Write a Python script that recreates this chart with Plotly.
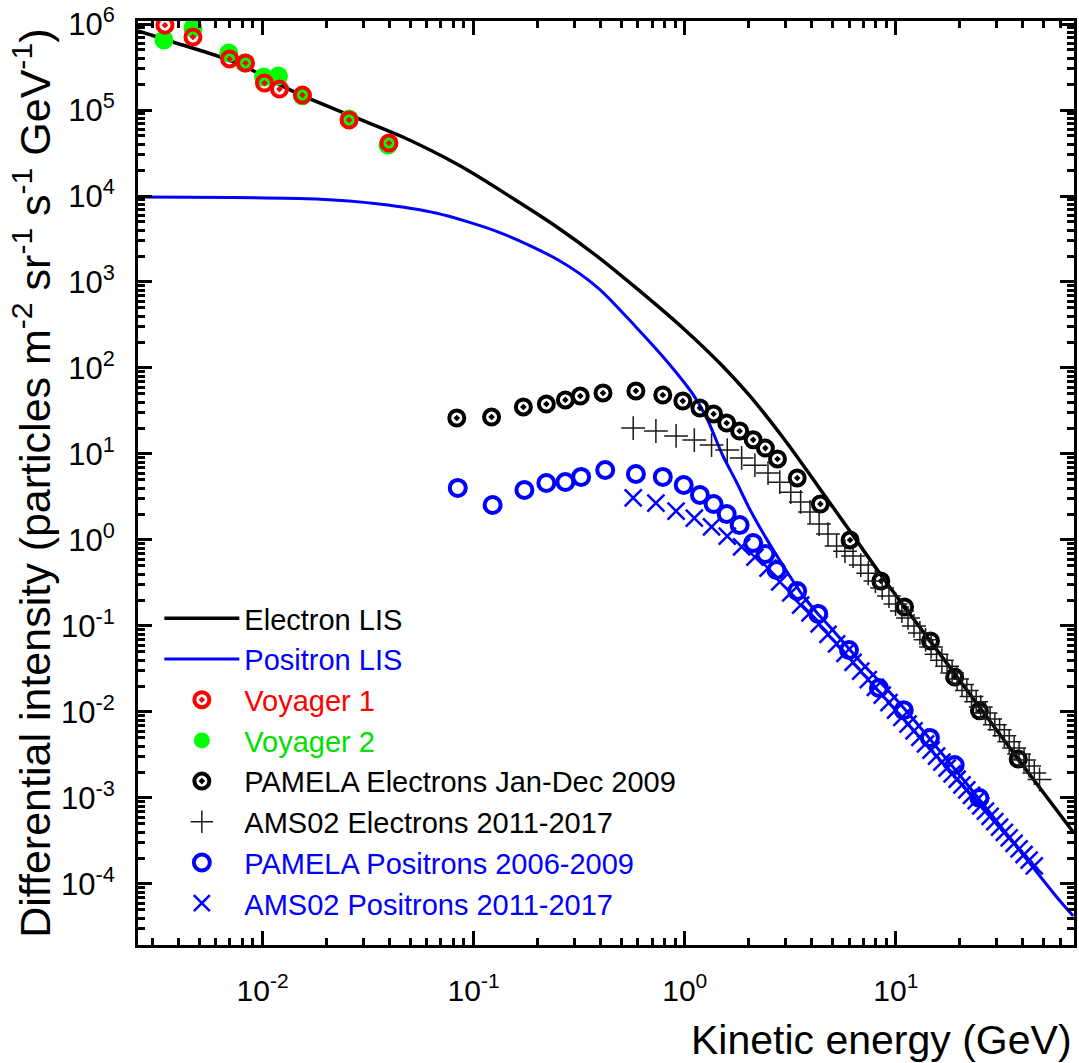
import plotly.graph_objects as go

# ---------------- data ----------------
# Electron LIS (GeV, intensity)
e_lis_E = [0.00257, 0.00376, 0.00754, 0.01446, 0.0257, 0.0462, 0.0849, 0.1578, 0.2518, 0.389, 0.600, 0.979, 1.51, 2.03, 2.93, 4.24, 6.14, 8.77, 11.27, 17.4, 24.9, 46.2, 69.2]
e_lis_J = [8.30e5, 6.18e5, 3.52e5, 1.58e5, 8.75e4, 4.85e4, 2.29e4, 8.98e3, 4.25e3, 1.95e3, 820, 292, 105.5, 47.6, 15.35, 4.36, 1.21, 0.352, 0.1535, 0.0372, 0.01143, 1.49e-3, 4.02e-4]

# Positron LIS
p_lis_E = [0.00257, 0.0180, 0.0356, 0.0662, 0.1312, 0.2518, 0.389, 0.587, 0.813, 1.091, 1.271, 1.51, 1.758, 2.03, 2.44, 2.93, 3.64, 4.24, 4.88, 6.55, 10.1, 22.3, 59.4, 69.2]
p_lis_J = [9.73e3, 9.23e3, 8.08e3, 6.34e3, 3.81e3, 1.80e3, 851, 300, 124, 49.9, 26.2, 9.73, 4.72, 2.29, 1.03, 0.499, 0.223, 0.1416, 0.0973, 0.0425, 0.0138, 1.34e-3, 6.5e-5, 4.25e-5]

# Voyager 1
v1_E = [0.00345, 0.00468, 0.00698, 0.00831, 0.01021, 0.01203, 0.01545, 0.0257, 0.0397]
v1_J = [9.7e5, 7.06e5, 3.92e5, 3.52e5, 2.06e5, 1.75e5, 1.49e5, 7.65e4, 4.13e4]

# Voyager 2
v2_E = [0.00341, 0.00468, 0.00692, 0.00822, 0.01012, 0.01189, 0.01545, 0.0257, 0.0393]
v2_J = [6.52e5, 8.97e5, 4.6e5, 3.52e5, 2.42e5, 2.48e5, 1.46e5, 7.85e4, 3.92e4]

# PAMELA electrons Jan-Dec 2009
pe_E = [0.0832, 0.1216, 0.172, 0.221, 0.272, 0.320, 0.410, 0.587, 0.787, 0.979, 1.18, 1.37, 1.58, 1.82, 2.11, 2.41, 2.75, 3.41, 4.39, 6.07, 8.49, 11.0, 14.6, 19.0, 24.9, 38.0]
pe_J = [26.2, 26.9, 35.2, 38.1, 42.5, 47.2, 51.2, 54.1, 48.5, 41.3, 34.3, 29.2, 22.9, 18.5, 14.6, 11.7, 8.75, 5.26, 2.62, 1.0, 0.333, 0.166, 0.067, 0.0255, 0.0103, 2.84e-3]

# AMS02 electrons 2011-2017
ams_e_E = [0.57, 0.73, 0.91, 1.11, 1.34, 1.59, 1.86, 2.15, 2.48, 2.82, 3.18, 3.54, 3.92, 4.33, 4.77, 5.24, 5.74, 6.27, 6.82, 7.40, 8.00, 8.62, 9.28, 9.97, 10.68, 11.42, 12.19, 13.00, 13.83, 14.69, 15.59, 16.52, 17.49, 18.48, 19.51, 20.58, 21.69, 22.83, 24.02, 25.26, 26.57, 27.96, 29.44, 31.01, 32.67, 34.44, 36.33, 38.35, 40.50, 42.80, 45.28, 47.95]
ams_e_J = [20.0, 18.5, 16.2, 14.5, 12.7, 11.1, 9.0, 7.4, 6.0, 4.7, 3.6, 2.77, 2.12, 1.53, 1.17, 0.85, 0.74, 0.65, 0.51, 0.41, 0.333, 0.277, 0.223, 0.180, 0.149, 0.124, 0.100, 0.083, 0.069, 0.057, 0.047, 0.040, 0.034, 0.0284, 0.0242, 0.0209, 0.0178, 0.0151, 0.0131, 0.0114, 0.0097, 0.0083, 0.0071, 0.0062, 0.0053, 0.0045, 0.0038, 0.00325, 0.00277, 0.00236, 0.00195, 0.00164]

# PAMELA positrons 2006-2009
pp_E = [0.0841, 0.1230, 0.174, 0.221, 0.272, 0.323, 0.420, 0.587, 0.787, 0.989, 1.18, 1.37, 1.58, 1.82, 2.11, 2.41, 2.72, 3.41, 4.29, 6.00, 8.32, 10.9, 14.5, 19.0, 24.9]
pp_J = [4.03, 2.55, 3.81, 4.60, 4.72, 5.41, 6.52, 5.85, 5.41, 4.36, 3.33, 2.62, 2.0, 1.49, 0.92, 0.687, 0.448, 0.255, 0.138, 0.0526, 0.019, 0.0105, 0.00499, 0.00242, 0.001]

# AMS02 positrons 2011-2017
ams_p_E = [0.57, 0.73, 0.91, 1.11, 1.34, 1.59, 1.86, 2.15, 2.48, 2.82, 3.18, 3.54, 3.92, 4.33, 4.77, 5.24, 5.74, 6.27, 6.82, 7.40, 8.00, 8.62, 9.28, 9.97, 10.68, 11.42, 12.19, 13.00, 13.83, 14.69, 15.59, 16.52, 17.49, 18.48, 19.51, 20.58, 21.69, 22.83, 24.02, 25.26, 26.57, 27.96, 29.44, 31.01, 32.67, 34.44, 36.33, 38.35, 40.50, 42.80, 45.28]
ams_p_J = [3.08, 2.69, 2.17, 1.80, 1.42, 1.11, 0.83, 0.63, 0.47, 0.325, 0.242, 0.175, 0.142, 0.106, 0.080, 0.0618, 0.048, 0.0377, 0.0298, 0.0238, 0.0193, 0.0157, 0.0128, 0.0105, 0.00867, 0.00721, 0.00603, 0.00505, 0.00426, 0.00361, 0.00306, 0.00261, 0.00223, 0.00191, 0.00165, 0.00142, 0.00124, 0.00107, 9.3e-4, 8.1e-4, 7.05e-4, 6.12e-4, 5.31e-4, 4.59e-4, 3.98e-4, 3.44e-4, 2.97e-4, 2.56e-4, 2.2e-4, 1.89e-4, 1.62e-4]

x_tickvals = [1e-2, 1e-1, 1e0, 1e1]
x_ticktext = ["10<sup>-2</sup>", "10<sup>-1</sup>", "10<sup>0</sup>", "10<sup>1</sup>"]
y_tickvals = [1e-4, 1e-3, 1e-2, 1e-1, 1e0, 1e1, 1e2, 1e3, 1e4, 1e5, 1e6]
y_ticktext = ["10<sup>-4</sup>", "10<sup>-3</sup>", "10<sup>-2</sup>", "10<sup>-1</sup>", "10<sup>0</sup>",
              "10<sup>1</sup>", "10<sup>2</sup>", "10<sup>3</sup>", "10<sup>4</sup>", "10<sup>5</sup>", "10<sup>6</sup>"]

FONT = "Liberation Sans, Arial, sans-serif"
BLUE = "#0000ff"
RED = "#ff0000"
GREEN = "#00ff00"


def lbl(text, color):
    return f"<span style='color:{color}'>{text}</span>"


fig = go.Figure()

fig.add_trace(go.Scatter(x=e_lis_E, y=e_lis_J, mode="lines", line=dict(color="black", width=3.5, shape="spline", smoothing=1.0),
                         name=lbl("Electron LIS", "black"), legendrank=1))
fig.add_trace(go.Scatter(x=p_lis_E, y=p_lis_J, mode="lines", line=dict(color=BLUE, width=3, shape="spline", smoothing=0.8),
                         name=lbl("Positron LIS", BLUE), legendrank=2))
fig.add_trace(go.Scatter(x=v2_E, y=v2_J, mode="markers",
                         marker=dict(symbol="circle", size=19, color=GREEN, line=dict(width=0)),
                         name=lbl("Voyager 2", "#00e000"), legendrank=4))
fig.add_trace(go.Scatter(x=v1_E, y=v1_J, mode="markers",
                         marker=dict(symbol="circle-open-dot", size=15, color=RED, line=dict(width=4, color=RED)),
                         name=lbl("Voyager 1", RED), legendrank=3))
fig.add_trace(go.Scatter(x=pe_E, y=pe_J, mode="markers",
                         marker=dict(symbol="circle-open-dot", size=15, color="black", line=dict(width=4, color="black")),
                         name=lbl("PAMELA Electrons Jan-Dec 2009", "black"), legendrank=5))
fig.add_trace(go.Scatter(x=ams_e_E, y=ams_e_J, mode="markers",
                         marker=dict(symbol="cross-thin", size=17, color="#1a1a1a", line=dict(width=1.5, color="#1a1a1a")),
                         name=lbl("AMS02 Electrons 2011-2017", "black"), legendrank=6))
fig.add_trace(go.Scatter(x=pp_E, y=pp_J, mode="markers",
                         marker=dict(symbol="circle-open", size=16, color=BLUE, line=dict(width=4, color=BLUE)),
                         name=lbl("PAMELA Positrons 2006-2009", BLUE), legendrank=7))
fig.add_trace(go.Scatter(x=ams_p_E, y=ams_p_J, mode="markers",
                         marker=dict(symbol="x-thin", size=17, color=BLUE, line=dict(width=2.5, color=BLUE)),
                         name=lbl("AMS02 Positrons 2011-2017", BLUE), legendrank=8))

x_minor = [m * 10.0 ** e for e in range(-3, 2) for m in range(2, 10)]
y_minor = [m * 10.0 ** e for e in range(-5, 6) for m in range(2, 10)]

axis_common = dict(
    showline=True, linecolor="black", linewidth=3, mirror="allticks",
    ticks="inside", ticklen=14, tickwidth=2.5, tickcolor="black",
    showgrid=False, zeroline=False, tickmode="array", ticklabeloverflow="allow",
)

fig.update_xaxes(type="log", range=[-2.59, 1.844], tickvals=x_tickvals, ticktext=x_ticktext,
                 tickfont=dict(family=FONT, size=30, color="black"), ticklabelstandoff=17,
                 minor=dict(tickmode="array", tickvals=x_minor, ticks="inside", ticklen=7, tickwidth=2.5, tickcolor="black"),
                 **axis_common)
fig.update_yaxes(type="log", range=[-4.71, 6.035], tickvals=y_tickvals, ticktext=y_ticktext,
                 tickfont=dict(family=FONT, size=31, color="black"), ticklabelstandoff=14,
                 minor=dict(tickmode="array", tickvals=y_minor, ticks="inside", ticklen=7, tickwidth=2.5, tickcolor="black"),
                 **axis_common)

fig.add_annotation(text="Kinetic energy (GeV)", xref="paper", yref="paper", x=1.0, y=-0.1027,
                   xanchor="right", yanchor="middle", showarrow=False,
                   font=dict(family=FONT, size=41, color="black"))
fig.add_annotation(text="Differential intensity (particles m<sup>-2</sup> sr<sup>-1</sup> s<sup>-1</sup> GeV<sup>-1</sup>)",
                   xref="paper", yref="paper", x=-0.1135, y=0.5, textangle=-90,
                   xanchor="center", yanchor="middle", showarrow=False,
                   font=dict(family=FONT, size=43, color="black"))

fig.update_layout(
    width=1079, height=1063,
    margin=dict(l=138, r=2, t=20, b=118),
    paper_bgcolor="white", plot_bgcolor="white",
    font=dict(family=FONT, color="black"),
    legend=dict(x=0.0228, y=0.381, xanchor="left", yanchor="top", bgcolor="rgba(0,0,0,0)",
                font=dict(family=FONT, size=29), itemwidth=75, tracegroupgap=0),
    showlegend=True,
)

# remove the default page margin so the figure fills the 1079x1063 window exactly
fig.write_html("out.html", config={"displayModeBar": False},
               post_script="document.body.style.margin='0';document.body.style.overflow='hidden';")
